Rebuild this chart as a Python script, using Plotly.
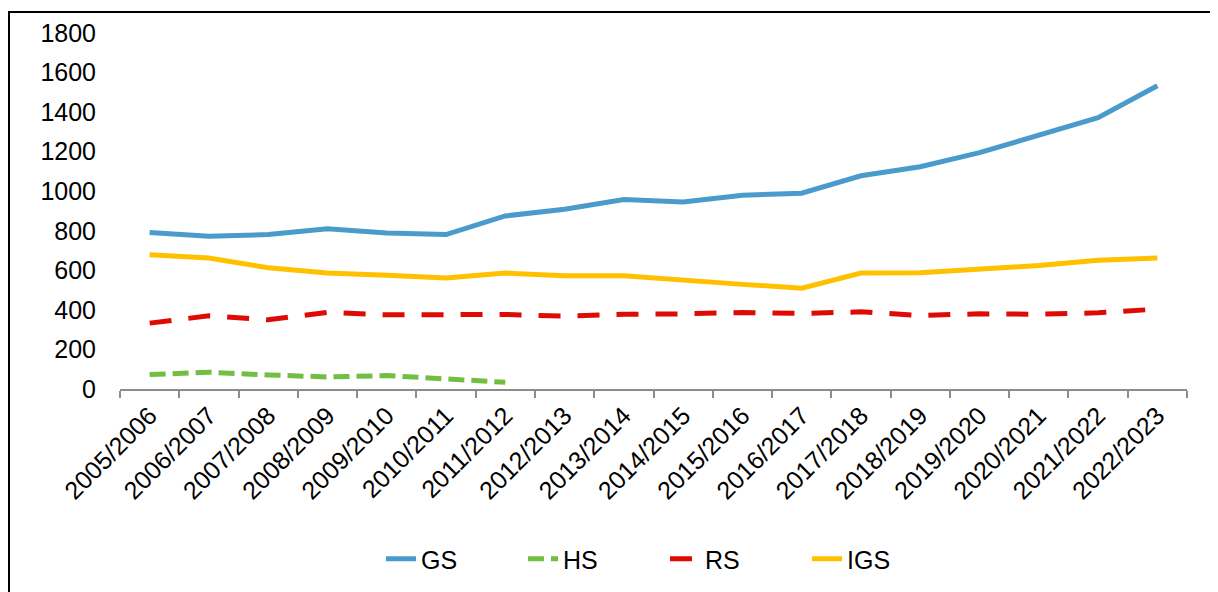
import plotly.graph_objects as go

seasons = ["2005/2006", "2006/2007", "2007/2008", "2008/2009", "2009/2010", "2010/2011",
           "2011/2012", "2012/2013", "2013/2014", "2014/2015", "2015/2016", "2016/2017",
           "2017/2018", "2018/2019", "2019/2020", "2020/2021", "2021/2022", "2022/2023"]
gs = [791, 772, 781, 810, 789, 781, 875, 909, 958, 945, 980, 990, 1078, 1124, 1195, 1284, 1372, 1533]
hs = [73, 85, 71, 61, 68, 52, 34]
rs = [333, 370, 350, 387, 375, 375, 377, 368, 378, 380, 387, 382, 390, 372, 380, 378, 385, 404]
igs = [679, 662, 613, 586, 575, 561, 586, 573, 573, 549, 529, 510, 586, 588, 607, 624, 651, 662]
y_ticks = [0, 200, 400, 600, 800, 1000, 1200, 1400, 1600, 1800]

FONT = "Liberation Sans, Arial, sans-serif"
OFF = 8  # page body margin
W, H = 1218 - OFF, 592 - OFF
# screen-pixel layout targets
PL, PR, PT, PB = 120, 1187, 33, 389
L, T = PL - OFF, PT - OFF
R, B = W - (PR - OFF), H - (PB - OFF)
pw, ph = W - L - R, H - T - B

def px_x(p):
    return (p - PL) / pw

def px_y(p):
    return (PB - p) / ph

fig = go.Figure()
fig.add_trace(go.Scatter(x=seasons, y=gs, name="GS", mode="lines",
                         line=dict(color="#4A9BCB", width=5)))
fig.add_trace(go.Scatter(x=seasons[:len(hs)], y=hs, name="HS", mode="lines",
                         line=dict(color="#70BF40", width=5, dash="16px,7px")))
fig.add_trace(go.Scatter(x=seasons, y=rs, name="RS", mode="lines",
                         line=dict(color="#DE0B05", width=5, dash="22px,17px")))
fig.add_trace(go.Scatter(x=seasons, y=igs, name="IGS", mode="lines",
                         line=dict(color="#FFC000", width=5)))

fig.update_layout(
    width=W, height=H,
    margin=dict(l=L, r=R, t=T, b=B, autoexpand=False),
    paper_bgcolor="white", plot_bgcolor="white",
    font=dict(family=FONT, size=25, color="black"),
    showlegend=True,
    legend=dict(orientation="h", x=px_x(381), xanchor="left", y=px_y(559), yanchor="middle",
                font=dict(size=25), itemwidth=30, entrywidth=97, tracegroupgap=0),
    xaxis=dict(type="category", range=[-0.5, len(seasons) - 0.5], tickangle=-45,
               showline=True, linecolor="#8C8C8C", linewidth=2,
               ticks="outside", tickson="boundaries", ticklen=7, tickcolor="#8C8C8C", tickwidth=2,
               showgrid=False, zeroline=False, automargin=False,
               tickfont=dict(size=25, color="black")),
    yaxis=dict(range=[0, 1800], tickvals=y_ticks, showline=False, showgrid=False,
               zeroline=False, ticks="", ticklabelstandoff=23, automargin=False,
               tickfont=dict(size=25, color="black")),
    shapes=[dict(type="rect", xref="paper", yref="paper",
                 x0=px_x(9), x1=px_x(1240), y0=px_y(12), y1=px_y(620),
                 line=dict(color="black", width=2), fillcolor="rgba(0,0,0,0)", layer="below")],
)

fig.write_html("out.html")
